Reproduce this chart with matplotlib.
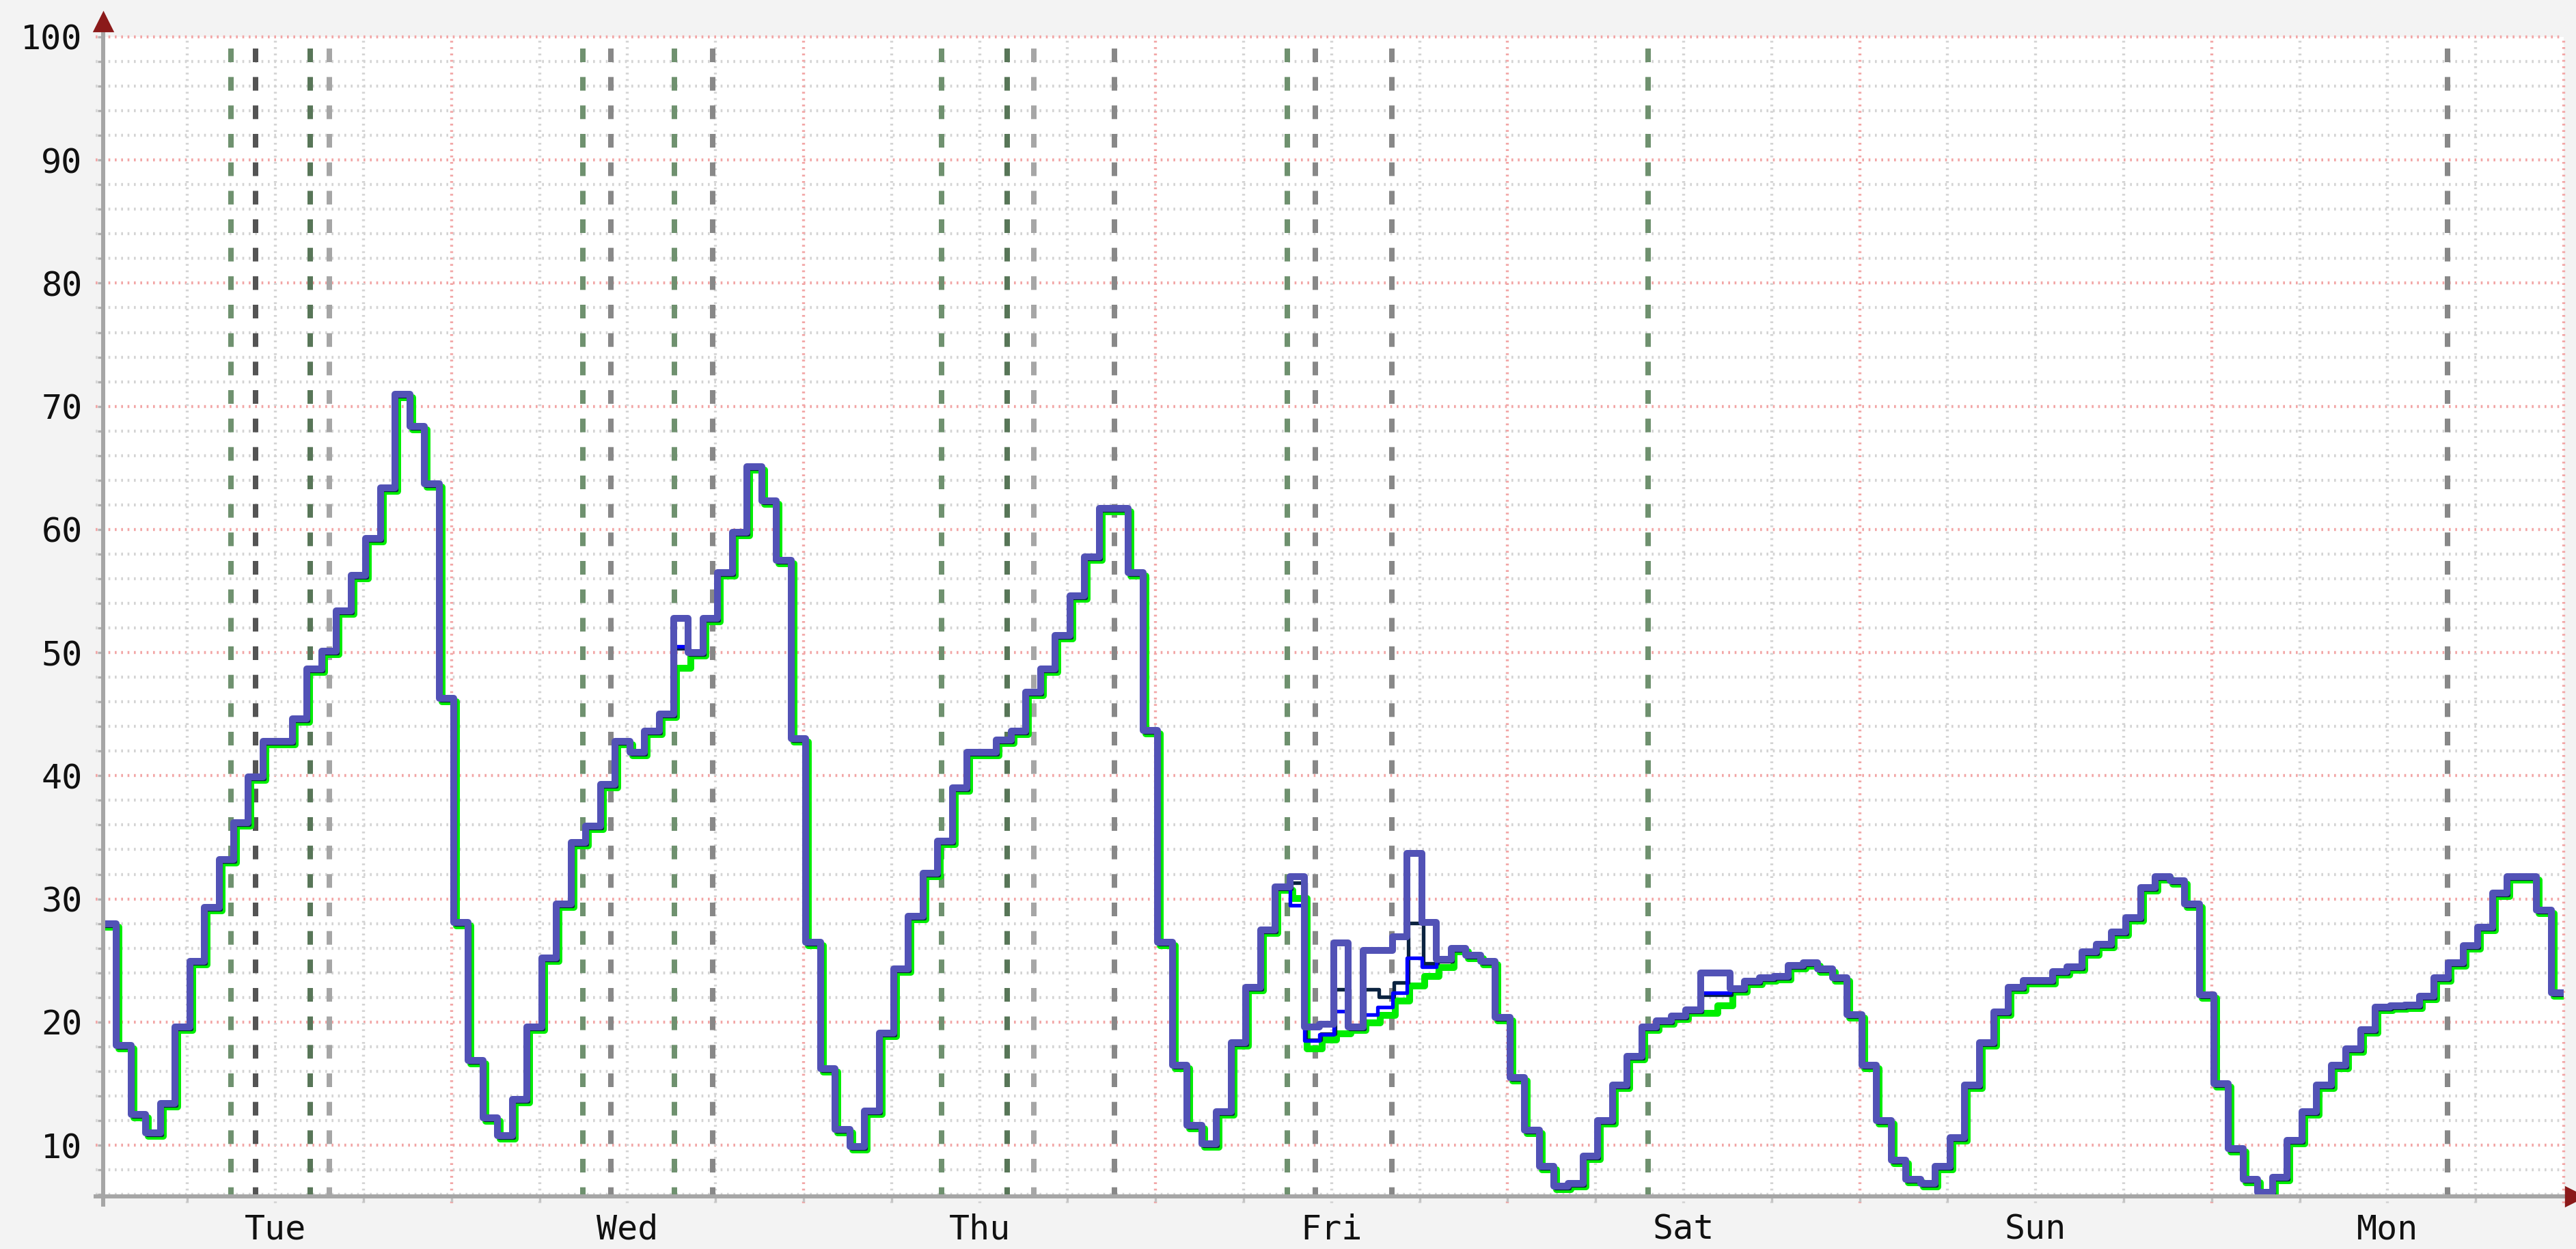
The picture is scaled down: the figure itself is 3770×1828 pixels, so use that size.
import numpy as np
import matplotlib
matplotlib.use("Agg")
import matplotlib.pyplot as plt
import matplotlib.transforms as mtransforms

# hourly readings, hour 0 = Tuesday 00:00 (one week)
main_vals = [
  28.0, 18.1, 12.5, 11.0, 13.4, 19.6, 24.9, 29.3, 33.2, 36.2, 39.9, 42.8,
  42.8, 44.6, 48.7, 50.1, 53.4, 56.3, 59.3, 63.4, 71.0, 68.4, 63.7, 46.3,
  28.1, 16.9, 12.2, 10.8, 13.7, 19.6, 25.2, 29.6, 34.6, 35.9, 39.3, 42.8,
  41.9, 43.6, 45.0, 52.8, 50.0, 52.8, 56.5, 59.8, 65.1, 62.3, 57.5, 43.0,
  26.5, 16.2, 11.3, 9.9, 12.8, 19.1, 24.3, 28.6, 32.1, 34.7, 39.0, 41.9,
  41.9, 42.9, 43.6, 46.8, 48.7, 51.4, 54.6, 57.8, 61.7, 61.7, 56.5, 43.7,
  26.5, 16.5, 11.6, 10.1, 12.7, 18.3, 22.8, 27.5, 31.0, 31.8, 19.6, 19.8,
  26.4, 19.6, 25.8, 25.8, 26.9, 33.7, 28.1, 25.1, 26.0, 25.4, 24.9, 20.4,
  15.5, 11.2, 8.3, 6.7, 6.9, 9.1, 12.0, 14.9, 17.2, 19.6, 20.1, 20.5,
  21.0, 24.0, 24.0, 22.7, 23.3, 23.6, 23.7, 24.6, 24.8, 24.3, 23.6, 20.6,
  16.5, 12.0, 8.8, 7.2, 6.9, 8.3, 10.6, 14.9, 18.3, 20.8, 22.8, 23.4,
  23.4, 24.1, 24.5, 25.7, 26.3, 27.3, 28.5, 30.9, 31.8, 31.5, 29.6, 22.2,
  15.0, 9.7, 7.2, 6.2, 7.4, 10.4, 12.7, 14.9, 16.5, 17.8, 19.4, 21.2,
  21.3, 21.4, 22.1, 23.6, 24.8, 26.2, 27.7, 30.5, 31.8, 31.8, 29.1, 22.4,
]

# hours where the other series part from the main one
override_hours = [39, 81, 82, 83, 84, 85, 86, 87, 88, 89, 90, 91, 109, 110]
dark_override = [50.5, 31.5, 18.7, 19.2, 22.8, 19.6, 22.8, 22.2, 23.4, 28.2, 24.9, 25.1, 22.4, 22.4]
blue_override = [50.5, 29.5, 18.5, 19.0, 20.9, 19.6, 20.6, 21.2, 22.4, 25.2, 24.5, 25.1, 22.4, 22.4]
green_override = [49.0, 30.3, 18.1, 18.8, 19.3, 19.6, 20.2, 20.8, 22.0, 23.2, 24.0, 24.7, 21.0, 21.6]

day_labels = ['Tue', 'Wed', 'Thu', 'Fri', 'Sat', 'Sun', 'Mon']

# event markers (hours since Tue 00:00)
event_hours = [8.97, 10.65, 14.37, 15.68, 32.95, 34.85, 39.2, 41.8,
               57.4, 61.9, 63.7, 69.2, 80.96, 82.9, 88.1, 105.6, 160.1]
event_kinds = ['green', 'dark', 'darkgreen', 'light', 'green', 'gray', 'green', 'gray',
               'green', 'darkgreen', 'light', 'gray', 'green', 'gray', 'gray', 'green', 'gray']

event_colors = {
  'green': '#6f916f', 'darkgreen': '#587658', 'dark': '#545454',
  'gray': '#888888', 'light': '#a6a6a6',
}

STEP_OFFSET = 0.15   # the hourly steps sit slightly after the full hour
X_MIN, X_MAX = 0.23, 168.0
Y_MIN, Y_MAX = 5.84, 100

plt.rcParams['lines.scale_dashes'] = False
plt.rcParams['font.family'] = ['DejaVu Sans Mono']


def series_with(overrides):
  vals = list(main_vals)
  for h, v in zip(override_hours, overrides):
    vals[h] = v
  return vals


def step_xy(vals):
  x = np.arange(len(vals) + 1) + STEP_OFFSET
  y = list(vals) + [vals[-1]]
  return x, y


fig = plt.figure(figsize=(3770 / 240, 1828 / 240), dpi=240, facecolor='#f3f3f3')
ax = fig.add_axes([150.5 / 3770, 1 - 1751 / 1828, (3752 - 150.5) / 3770, (1751 - 54) / 1828])
ax.set_facecolor('white')
ax.set_xlim(X_MIN, X_MAX)
ax.set_ylim(Y_MIN, Y_MAX)

dot = (0, (0.8, 2.0))
minor_c = '#d4d4d4'
major_c = '#f2a6a6'

# horizontal grid
for v in range(6, 100, 2):
  if v % 10:
    ax.axhline(v, xmin=-0.003, color=minor_c, lw=1.3, ls=dot, clip_on=False, zorder=1)
for v in range(10, 101, 10):
  ax.axhline(v, xmin=-0.003, color=major_c, lw=1.3, ls=dot, clip_on=False, zorder=1)

# vertical grid
for h in range(6, 169, 6):
  c = major_c if h % 24 == 0 else minor_c
  ax.axvline(h, ymin=-0.006, color=c, lw=1.3, ls=dot, clip_on=False, zorder=1)

# event markers
for h, k in zip(event_hours, event_kinds):
  ax.axvline(h, color=event_colors[k], lw=2.4, ls=(2, (6, 6.5)), zorder=2)

# data lines
def offset(dx, dy):
  return mtransforms.offset_copy(ax.transData, fig=fig, x=dx, y=dy, units='dots')

gx, gy = step_xy(series_with(green_override))
ax.plot(gx, gy, drawstyle='steps-post', color='#00ee00', lw=3.0,
        transform=offset(4, -5), zorder=3)

dx_, dy_ = step_xy(series_with(dark_override))
ax.plot(dx_, dy_, drawstyle='steps-post', color='#0b2340', lw=1.6,
        transform=offset(2, -3), zorder=4)

bx, by = step_xy(series_with(blue_override))
ax.plot(bx, by, drawstyle='steps-post', color='#0000ff', lw=1.6, zorder=4)

mx, my = step_xy(main_vals)
ax.plot(mx, my, drawstyle='steps-post', color='#5252b6', lw=3.0, zorder=5)

# axes lines and arrows
for s in ax.spines.values():
  s.set_visible(False)
axis_c = '#a6a6a6'
ax.plot([0, 0], [-0.007, 1.005], transform=ax.transAxes, color=axis_c, lw=1.8,
        clip_on=False, zorder=6)
ax.plot([-0.003, 1.003], [0, 0], transform=ax.transAxes, color=axis_c, lw=1.8,
        clip_on=False, zorder=6)
ax.plot([0], [1.013], transform=ax.transAxes, marker='^', ms=8, color='#8b1a1a',
        clip_on=False, zorder=7)
ax.plot([1.0045], [0], transform=ax.transAxes, marker='>', ms=8, color='#8b1a1a',
        clip_on=False, zorder=7)

# ticks and labels
ax.set_yticks(range(10, 101, 10))
ax.set_yticklabels([str(v) for v in range(10, 101, 10)])
ax.set_yticks([v for v in range(6, 100, 2) if v % 10], minor=True)
ax.set_xticks([12 + 24 * i for i in range(len(day_labels))])
ax.set_xticklabels(day_labels)
ax.set_xticks([h for h in range(6, 168, 6)], minor=True)

ax.tick_params(axis='y', which='both', length=2.5, width=1.0, color='#b4b4b4',
               labelsize=15, pad=6.5, labelcolor='#111111')
ax.tick_params(axis='x', which='major', length=0, labelsize=15, pad=7.5,
               labelcolor='#111111')
ax.tick_params(axis='x', which='minor', length=2.5, width=1.0, color='#c4c4c4')

fig.savefig('out.png', dpi=240, facecolor=fig.get_facecolor())
